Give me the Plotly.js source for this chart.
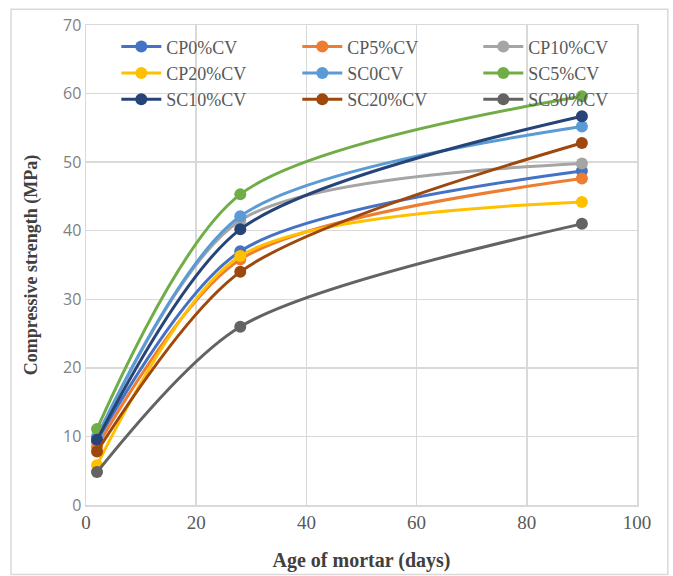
<!DOCTYPE html>
<html><head><meta charset="utf-8">
<script src="https://cdn.plot.ly/plotly-3.0.1.min.js"></script>
<style>html,body{margin:0;padding:0;background:#fff}#chart{width:673px;height:576px}</style>
</head><body><div id="chart"></div>
<script>
const ages = [2, 28, 90];
const seriesNames = ["CP0%CV","CP5%CV","CP10%CV","CP20%CV","SC0CV","SC5%CV","SC10%CV","SC20%CV","SC30%CV"];
const cp0 = [9.3, 37.0, 48.7];
const cp5 = [8.5, 35.8, 47.6];
const cp10 = [9.8, 41.5, 49.8];
const cp20 = [5.8, 36.3, 44.2];
const sc0 = [10.0, 42.1, 55.2];
const sc5 = [11.1, 45.3, 59.6];
const sc10 = [9.5, 40.2, 56.7];
const sc20 = [7.8, 34.0, 52.8];
const sc30 = [4.8, 26.0, 41.0];
const seriesValues = [cp0, cp5, cp10, cp20, sc0, sc5, sc10, sc20, sc30];
const colors = ["#4472C4","#ED7D31","#A5A5A5","#FFC000","#5B9BD5","#70AD47","#264478","#9E480E","#636363"];

const traces = seriesNames.map((n, i) => ({
  type: "scatter", mode: "lines+markers", name: n,
  x: ages, y: seriesValues[i],
  line: {color: colors[i], width: 3, shape: "spline", smoothing: 0.8},
  marker: {color: colors[i], size: 12}
}));

const font = "Liberation Serif, Times New Roman, serif";
const layout = {
  width: 673, height: 576,
  margin: {l: 86, r: 36, t: 25, b: 71},
  paper_bgcolor: "#ffffff", plot_bgcolor: "#ffffff",
  font: {family: font, color: "#595959", size: 17},
  showlegend: true,
  legend: {
    orientation: "h", x: 0.055, y: 0.993, xanchor: "left", yanchor: "top",
    entrywidth: 126, entrywidthmode: "pixels",
    font: {family: font, size: 18, color: "#595959"},
    bgcolor: "rgba(0,0,0,0)", tracegroupgap: 0, itemwidth: 40
  },
  xaxis: {
    range: [0, 100], dtick: 20, tick0: 0,
    showgrid: true, gridcolor: "#d9d9d9", gridwidth: 1.5,
    showline: true, linecolor: "#d9d9d9", linewidth: 1.5, mirror: true,
    zeroline: false, ticks: "", tickfont: {family: font, size: 19, color: "#595959"},
    title: {text: "<b>Age of mortar (days)</b>", font: {family: font, size: 20, color: "#404040"}, standoff: 20}
  },
  yaxis: {
    range: [0, 70], dtick: 10, tick0: 0,
    showgrid: true, gridcolor: "#d9d9d9", gridwidth: 1.5,
    showline: true, linecolor: "#d9d9d9", linewidth: 1.5, mirror: true,
    zeroline: false, ticks: "", tickfont: {family: "Open Sans, Liberation Sans, sans-serif", size: 16, color: "#7f7f7f"},
    title: {text: "<b>Compressive strength (MPa)</b>", font: {family: font, size: 18, color: "#404040"}, standoff: 20}
  },
  shapes: [{
    type: "rect", xref: "paper", yref: "paper",
    x0: -0.136, x1: 1.056, y0: -0.145, y1: 1.033,
    line: {color: "#d9d9d9", width: 1.5}, fillcolor: "rgba(0,0,0,0)", layer: "below"
  }]
};
Plotly.newPlot("chart", traces, layout, {displayModeBar: false, staticPlot: true});
</script></body></html>
